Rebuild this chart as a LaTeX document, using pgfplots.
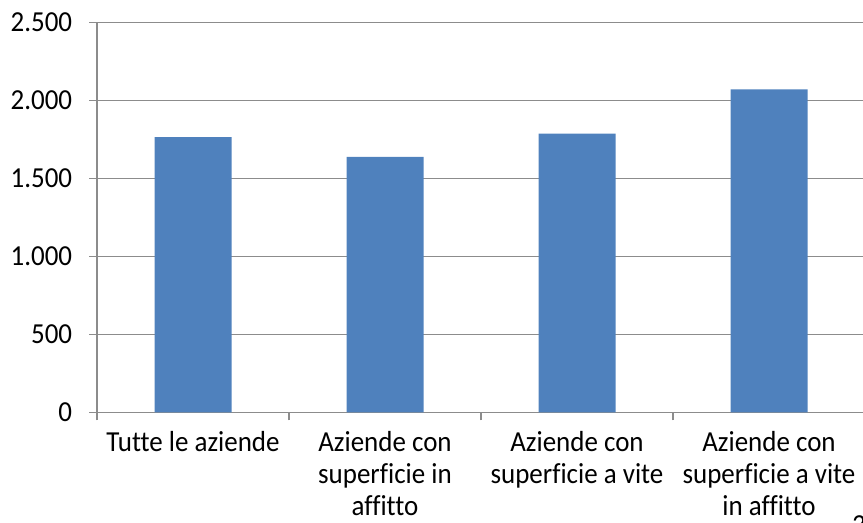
\documentclass[border=0pt]{standalone}
\usepackage{pgfplots}
\pgfplotsset{compat=1.18}
\usepackage{fontspec}
\setmainfont{Carlito}[FakeStretch=0.93, Ligatures=NoCommon]
\definecolor{barblue}{HTML}{4F81BD}
\definecolor{gridgray}{HTML}{8C8C8C}
\begin{document}
\fontsize{29bp}{32bp}\selectfont
\begin{tikzpicture}[x=1bp,y=1bp]
\useasboundingbox (0,0) rectangle (863,523);
\begin{axis}[
  at={(97bp,110.5bp)}, anchor=south west,
  scale only axis, width=768bp, height=390bp,
  xmin=-0.5, xmax=3.5, ymin=0, ymax=2500,
  axis x line=bottom, axis y line=left,
  axis line style={-, draw=gridgray, line width=1.5bp},
  ytick={0,500,1000,1500,2000,2500},
  ymajorgrids,
  major grid style={draw=gridgray, line width=1.5bp},
  tick align=outside,
  major tick length=8bp,
  tick style={draw=gridgray, line width=1.5bp},
  xtick={-0.5,0.5,1.5,2.5,3.5},
  xticklabels={},
  extra x ticks={0,1,2,3},
  extra x tick labels={Tutte le aziende,Aziende con\\superficie in\\affitto,Aziende con\\superficie a vite,Aziende con\\superficie a vite\\in affitto},
  extra x tick style={major tick length=0pt, tick style={draw=none}, grid=none,
    xticklabel style={align=center, anchor=north, yshift=-18bp, inner sep=1bp}},
  /pgf/number format/.cd, 1000 sep={.}, assume math mode=true,
  /pgfplots/.cd,
  ticklabel style={font=\fontsize{29bp}{32bp}\selectfont, text=black},
  yticklabel style={anchor=east, xshift=-7bp},
  ybar, bar width=77bp,
]
\addplot[fill=barblue, draw=none] coordinates {(0,1765) (1,1638) (2,1787) (3,2072)};
\end{axis}
\node[anchor=north west, inner sep=0pt] at (852,8) {3};
\end{tikzpicture}
\end{document}
